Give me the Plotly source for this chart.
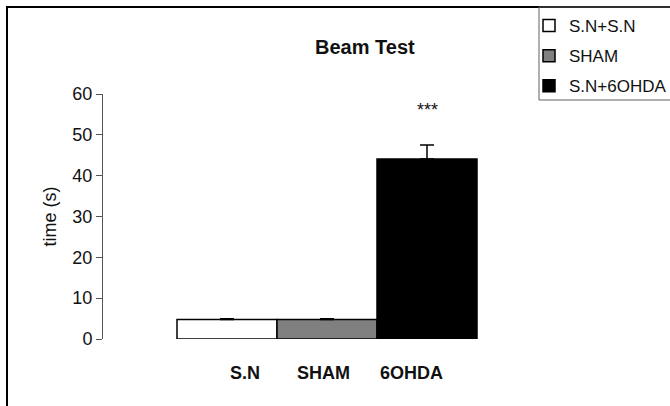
import plotly.graph_objects as go

groups = ["S.N+S.N", "SHAM", "S.N+6OHDA"]
group_labels = ["S.N", "SHAM", "6OHDA"]
means = [4.8, 4.8, 44.1]
errors = [0.15, 0.15, 3.4]
colors = ["#ffffff", "#808080", "#000000"]
y_ticks = [0, 10, 20, 30, 40, 50, 60]
significance = ["", "", "***"]

FONT = "Liberation Sans, Arial, sans-serif"

fig = go.Figure()
for i, (g, m, e, c) in enumerate(zip(groups, means, errors, colors)):
    fig.add_trace(go.Bar(
        x=[i], y=[m], width=1, name=g,
        marker=dict(color=c, line=dict(color="#000000", width=1.5)),
        error_y=dict(type="data", array=[e], arrayminus=[0], symmetric=False,
                     color="#000000", thickness=1.5, width=7),
        legendgroup=g,
    ))

# plot area in pixels: left 103, right 551, top 94, bottom 339
L, R, T, B = 103, 551, 94, 339
W, H = R - L, B - T
def px(x): return (x - L) / W
def py(y): return (B - y) / H

annotations = []
label_x_px = [245, 323, 411]
for lab, lx in zip(group_labels, label_x_px):
    annotations.append(dict(text="<b>%s</b>" % lab, x=px(lx), y=py(373), xref="paper", yref="paper",
                            showarrow=False, font=dict(family=FONT, size=18, color="#111"),
                            xanchor="center", yanchor="middle"))
for i, (s, m, e) in enumerate(zip(significance, means, errors)):
    if s:
        annotations.append(dict(text=s, x=i, y=m + e + 8.5, xref="x", yref="y", showarrow=False,
                                font=dict(family=FONT, size=18, color="#111"),
                                xanchor="center", yanchor="middle"))
annotations.append(dict(text="<b>Beam Test</b>", x=px(365), y=py(47), xref="paper", yref="paper",
                        showarrow=False, font=dict(family=FONT, size=20, color="#111"),
                        xanchor="center", yanchor="middle"))

shapes = [
    dict(type="rect", xref="paper", yref="paper", x0=px(7), y0=py(420), x1=px(690), y1=py(7),
         line=dict(color="#000000", width=2), fillcolor="rgba(0,0,0,0)", layer="above"),
    dict(type="rect", xref="paper", yref="paper", x0=px(539), y0=py(100), x1=px(690), y1=py(7),
         line=dict(color="#606060", width=1), fillcolor="rgba(0,0,0,0)", layer="above"),
]

fig.update_layout(
    width=670, height=406,
    margin=dict(l=L, r=670 - R, t=T, b=406 - B, autoexpand=False),
    paper_bgcolor="white", plot_bgcolor="white",
    barmode="overlay",
    showlegend=True,
    legend=dict(x=px(529), y=py(8), xanchor="left", yanchor="top",
                font=dict(family=FONT, size=17, color="#111"),
                bgcolor="rgba(0,0,0,0)", borderwidth=0,
                tracegroupgap=5, itemwidth=30, traceorder="grouped"),
    xaxis=dict(range=[-1.24, 3.24], showline=False, showticklabels=False, showgrid=False,
               zeroline=False, ticks=""),
    yaxis=dict(range=[0, 60], tickvals=y_ticks, ticks="outside", ticklen=6, tickwidth=1,
               tickcolor="#555", showline=True, linecolor="#555", linewidth=1,
               showgrid=False, zeroline=False,
               tickfont=dict(family=FONT, size=18, color="#111"),
               title=dict(text="time (s)", font=dict(family=FONT, size=18, color="#111"), standoff=11)),
    annotations=annotations,
    shapes=shapes,
)

fig.write_html("out.html", config={"displayModeBar": False},
               post_script="document.body.style.margin='0';document.body.style.overflow='hidden';")
